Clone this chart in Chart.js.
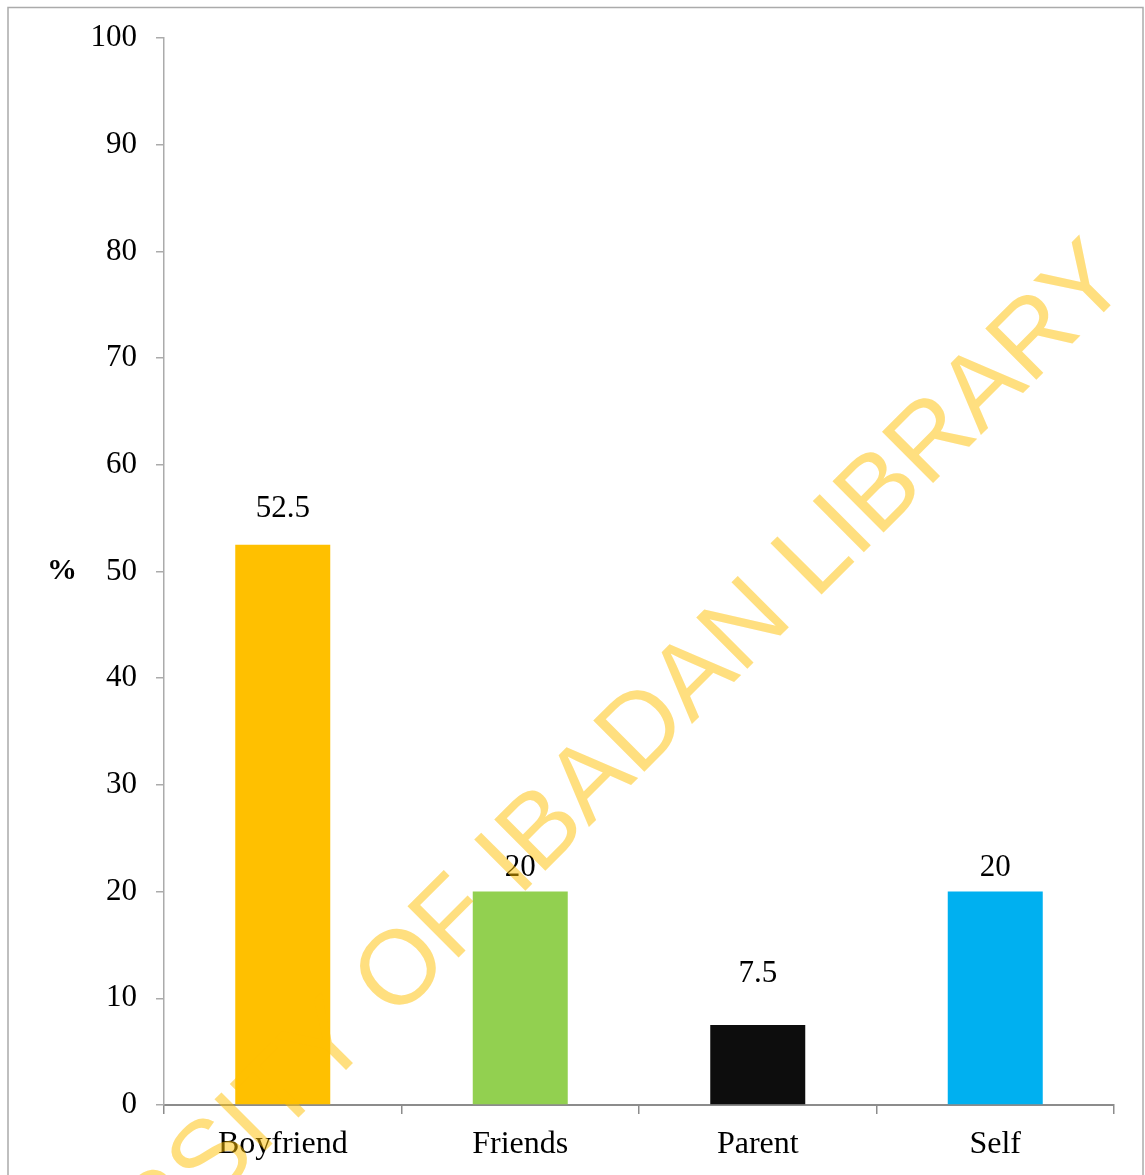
<!DOCTYPE html>
<html>
<head>
<meta charset="utf-8">
<title>Source of information</title>
<script src="https://cdn.jsdelivr.net/npm/chart.js@4.4.1/dist/chart.umd.min.js"></script>
<style>
  html, body { margin: 0; padding: 0; background: #ffffff; }
  #wrap { width: 1145px; height: 1175px; }
</style>
</head>
<body>
<div id="wrap"><canvas id="chart" width="1145" height="1175"></canvas></div>
<script>
// Data
const categories = ['Boyfriend', 'Friends', 'Parent', 'Self'];
const percentages = [52.5, 20, 7.5, 20];
const barColors = ['#FFC000', '#92D050', '#0D0D0D', '#00B0F0'];
const yTicks = [0, 10, 20, 30, 40, 50, 60, 70, 80, 90, 100];
const yAxisTitle = '%';
const watermarkText = 'UNIVERSITY OF IBADAN LIBRARY';

// Gap between each value label baseline and the top of its bar (px)
const labelGaps = [28, 16, 43, 16];

const serif = '"Liberation Serif", "Times New Roman", serif';

// Outer frame around the whole figure
const framePlugin = {
  id: 'frame',
  beforeDraw(chart) {
    const ctx = chart.ctx;
    ctx.save();
    ctx.fillStyle = '#ffffff';
    ctx.fillRect(0, 0, chart.width, chart.height);
    ctx.strokeStyle = '#ababab';
    ctx.lineWidth = 1.5;
    ctx.strokeRect(8, 7.5, 1135, 1200);
    ctx.restore();
  }
};

// Value labels above the bars and the unrotated "%" axis title
const labelsPlugin = {
  id: 'valueLabels',
  afterDatasetsDraw(chart) {
    const ctx = chart.ctx;
    const meta = chart.getDatasetMeta(0);
    ctx.save();
    ctx.fillStyle = '#000000';
    ctx.font = '31px ' + serif;
    ctx.textAlign = 'center';
    ctx.textBaseline = 'alphabetic';
    meta.data.forEach((bar, i) => {
      ctx.fillText(String(percentages[i]), bar.x, bar.y - labelGaps[i]);
    });
    const area = chart.chartArea;
    ctx.font = 'bold 30px ' + serif;
    ctx.textBaseline = 'middle';
    ctx.fillText(yAxisTitle, 62, (area.top + area.bottom) / 2);
    ctx.restore();
  }
};

// Diagonal library watermark over everything
const watermarkPlugin = {
  id: 'watermark',
  afterDraw(chart) {
    const ctx = chart.ctx;
    ctx.save();
    ctx.translate(1132, 284);
    ctx.rotate(-Math.PI / 4);
    ctx.font = '105px "Liberation Sans", Arial, sans-serif';
    ctx.fillStyle = 'rgba(255, 192, 0, 0.5)';
    ctx.textAlign = 'right';
    ctx.textBaseline = 'alphabetic';
    ctx.fillText(watermarkText, 0, 0);
    ctx.restore();
  }
};

new Chart(document.getElementById('chart'), {
  type: 'bar',
  data: {
    labels: categories,
    datasets: [{
      data: percentages,
      backgroundColor: barColors,
      borderWidth: 0,
      barPercentage: 0.4,
      categoryPercentage: 1.0
    }]
  },
  options: {
    responsive: false,
    animation: false,
    devicePixelRatio: 1,
    layout: { padding: { left: 1, top: 38, right: 31, bottom: 0 } },
    plugins: {
      legend: { display: false },
      tooltip: { enabled: false },
      title: { display: false }
    },
    scales: {
      x: {
        type: 'category',
        afterFit(scale) { scale.height = 70; },
        grid: {
          offset: true,
          drawOnChartArea: false,
          drawTicks: true,
          tickLength: 9,
          color: '#8c8c8c',
          lineWidth: 1.5
        },
        border: { display: true, color: '#8c8c8c', width: 2 },
        ticks: {
          color: '#000000',
          font: { family: serif, size: 32 },
          padding: 11,
          maxRotation: 0
        }
      },
      y: {
        min: 0,
        max: 100,
        afterFit(scale) { scale.width = 163; },
        afterBuildTicks(scale) { scale.ticks = yTicks.map(v => ({ value: v })); },
        grid: {
          drawOnChartArea: false,
          drawTicks: true,
          tickLength: 8,
          color: '#ababab',
          lineWidth: 1.5
        },
        border: { display: true, color: '#ababab', width: 1.5 },
        ticks: {
          color: '#000000',
          font: { family: serif, size: 31 },
          padding: 19
        }
      }
    }
  },
  plugins: [framePlugin, labelsPlugin, watermarkPlugin]
});
</script>
</body>
</html>
